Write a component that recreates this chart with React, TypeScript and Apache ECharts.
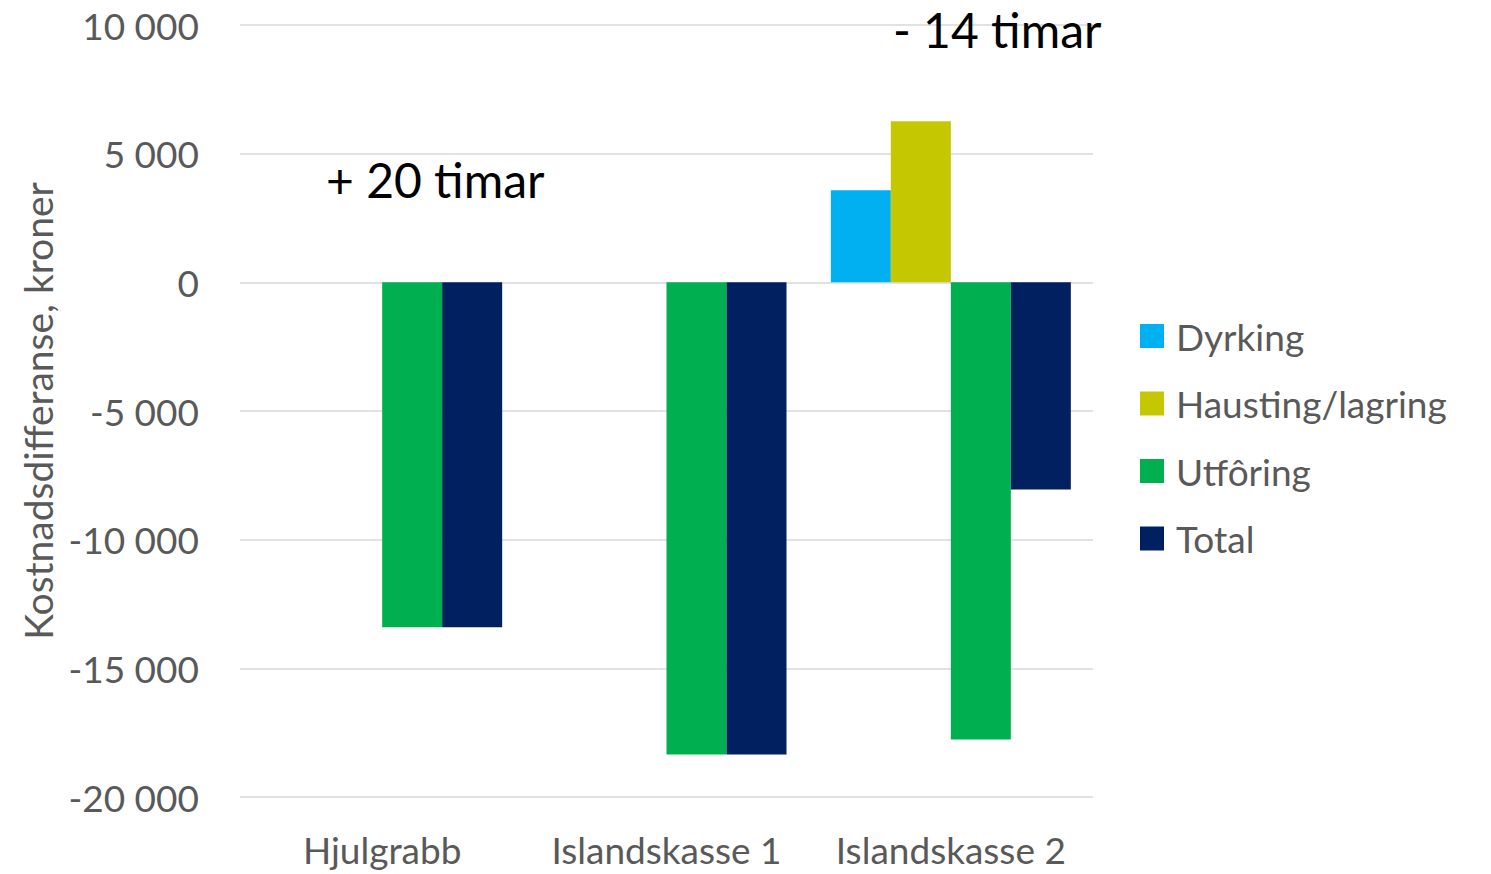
import React, { useEffect, useRef } from "react";
import * as echarts from "echarts";

const categories = ["Hjulgrabb", "Islandskasse 1", "Islandskasse 2"];
const seriesNames = ["Dyrking", "Hausting/lagring", "Utfôring", "Total"];
const dyrking = [null, null, 3580];
const hausting = [null, null, 6260];
const utforing = [-13400, -18350, -17770];
const total = [-13400, -18350, -8050];
const colors = ["#00B0F0", "#C5C800", "#00B050", "#002060"];
const annotations = [
  { text: "+ 20 timar", x: 326, y: 180 },
  { text: "- 14 timar", x: 893, y: 30 },
];

const FONT = "Lato, 'Open Sans', sans-serif";

export default function App() {
  const ref = useRef<HTMLDivElement>(null);
  useEffect(() => {
    document.body.style.margin = "0";
    const chart = echarts.init(ref.current!, undefined, { renderer: "svg" });
    const values = [dyrking, hausting, utforing, total];
    const fmt = (v: number) => {
      const s = Math.abs(v).toString().replace(/\B(?=(\d{3})+(?!\d))/g, " ");
      return (v < 0 ? "-" : "") + s;
    };
    chart.setOption({
      animation: false,
      textStyle: { fontFamily: FONT },
      grid: { left: 240, top: 25, width: 853, height: 772 },
      legend: {
        orient: "vertical",
        left: 1135,
        top: 311,
        itemWidth: 24,
        itemHeight: 24,
        itemGap: 27.5,
        icon: "rect",
        data: seriesNames,
        textStyle: {
          fontSize: 37,
          color: "#595959",
          lineHeight: 40,
          fontFamily: FONT,
          padding: [0, 0, 0, 7],
        },
      },
      xAxis: {
        type: "category",
        data: categories,
        axisLine: { show: false },
        axisTick: { show: false },
        axisLabel: { fontSize: 37, color: "#595959", margin: 34, fontFamily: FONT, interval: 0 },
      },
      yAxis: {
        type: "value",
        min: -20000,
        max: 10000,
        interval: 5000,
        name: "Kostnadsdifferanse, kroner",
        nameLocation: "middle",
        nameGap: 183,
        nameTextStyle: { fontSize: 39, color: "#595959", fontFamily: FONT },
        axisLine: { show: false },
        axisTick: { show: false },
        axisLabel: {
          fontSize: 37,
          color: "#595959",
          margin: 41,
          fontFamily: FONT,
          formatter: fmt,
        },
        splitLine: { lineStyle: { color: "#D9D9D9", width: 1.5 } },
      },
      series: seriesNames.map((n, i) => ({
        name: n,
        type: "bar",
        data: values[i],
        barWidth: 60,
        barGap: "0%",
        itemStyle: { color: colors[i] },
      })),
      graphic: annotations.map((a) => ({
        type: "text",
        left: a.x,
        top: a.y - 25,
        style: {
          text: a.text,
          fontSize: 48,
          fill: "#000000",
          fontFamily: FONT,
        },
        z: 100,
      })),
    });
    return () => chart.dispose();
  }, []);
  return <div ref={ref} style={{ width: 1491, height: 874 }} />;
}
